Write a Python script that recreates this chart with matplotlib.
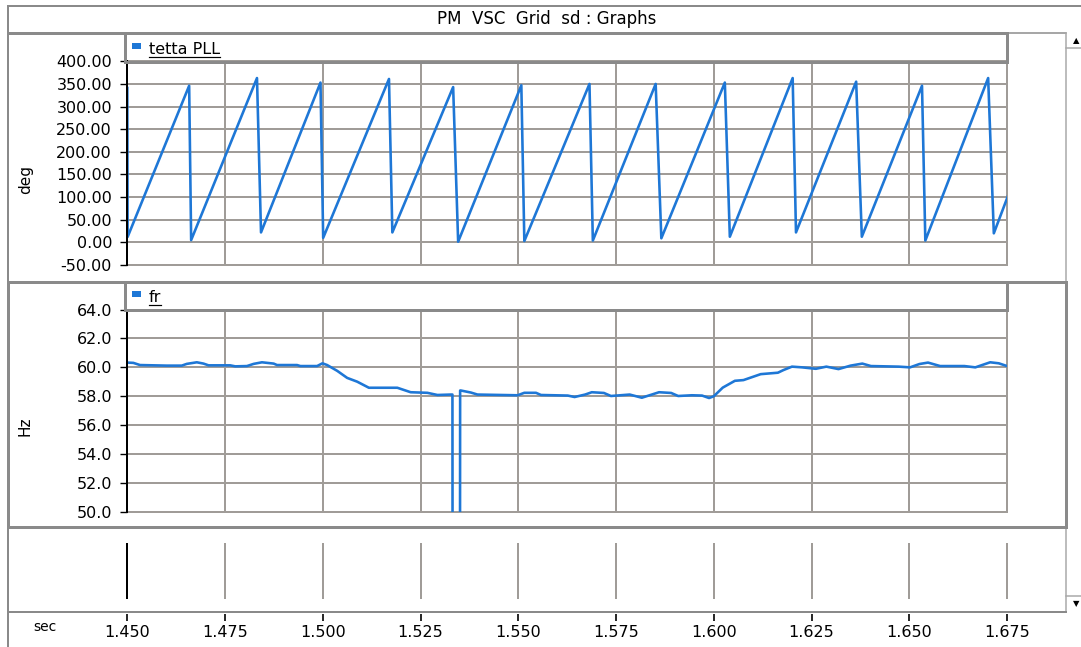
import matplotlib
matplotlib.use("Agg")
import matplotlib.pyplot as plt
from matplotlib.lines import Line2D
from matplotlib.patches import Rectangle

plt.rcParams['font.family'] = ['DejaVu Sans']

# ---------------- data ----------------
title = "PM  VSC  Grid  sd : Graphs"
x_ticks = [1.450, 1.475, 1.500, 1.525, 1.550, 1.575, 1.600, 1.625, 1.650, 1.675]
x_tick_labels = ["1.450", "1.475", "1.500", "1.525", "1.550", "1.575", "1.600", "1.625", "1.650", "1.675"]
theta_yticks = [-50, 0, 50, 100, 150, 200, 250, 300, 350, 400]
fr_yticks = [50, 52, 54, 56, 58, 60, 62, 64]

theta_time = [1.45000, 1.45008, 1.46582, 1.46633, 1.48317, 1.48420, 1.49941, 1.50010,
              1.51693, 1.51779, 1.53334, 1.53462, 1.55078, 1.55155, 1.56821, 1.56907,
              1.58514, 1.58659, 1.60283, 1.60411, 1.62018, 1.62103, 1.63642, 1.63787,
              1.65326, 1.65411, 1.67018, 1.67163, 1.67548]
theta_deg = [341, 12, 346, 5, 363, 22, 353, 10,
             361, 22, 343, 1.5, 347, 3, 350, 4,
             350, 9, 353, 12.5, 363, 22, 355, 12.5,
             346, 4, 363, 20, 108]

fr_time = [1.45000, 1.45154, 1.45325, 1.46009, 1.46393, 1.46521, 1.46778, 1.46949, 1.47077,
           1.47632, 1.47761, 1.48060, 1.48231, 1.48444, 1.48744, 1.48829, 1.49342, 1.49427,
           1.49855, 1.49991, 1.50111, 1.50368, 1.50624, 1.50880, 1.51179, 1.51906, 1.52248,
           1.52675, 1.52932, 1.53274, 1.53316, 1.53320, 1.53509, 1.53513, 1.53530, 1.53786,
           1.53957, 1.54983, 1.55154, 1.55453, 1.55581, 1.55923, 1.56265, 1.5644, 1.5671,
           1.5688, 1.5719, 1.5737, 1.5785, 1.5816, 1.5860, 1.5891, 1.5909, 1.5944, 1.5970,
           1.5988, 1.6000, 1.6023, 1.6054, 1.6076, 1.6120, 1.6164, 1.6178, 1.6200, 1.6226,
           1.6261, 1.6288, 1.6319, 1.6350, 1.6380, 1.6402, 1.6438, 1.6473, 1.6502, 1.6526,
           1.6548, 1.6579, 1.6641, 1.6669, 1.6707, 1.6729, 1.6750]
fr_hz = [60.33, 60.31, 60.16, 60.12, 60.12, 60.24, 60.35, 60.26, 60.14,
         60.14, 60.07, 60.09, 60.24, 60.35, 60.26, 60.16, 60.16, 60.09,
         60.09, 60.28, 60.16, 59.76, 59.27, 59.01, 58.59, 58.59, 58.28,
         58.24, 58.09, 58.12, 58.12, 45.0, 45.0, 58.40, 58.40, 58.26,
         58.12, 58.07, 58.24, 58.24, 58.09, 58.07, 58.05, 57.95, 58.12,
         58.28, 58.23, 58.02, 58.12, 57.90, 58.28, 58.23, 58.02, 58.07, 58.05,
         57.88, 58.00, 58.60, 59.07, 59.12, 59.53, 59.63, 59.81, 60.05, 60.00,
         59.90, 60.05, 59.88, 60.12, 60.26, 60.09, 60.07, 60.05, 60.00, 60.23,
         60.33, 60.09, 60.09, 60.00, 60.35, 60.28, 60.09]

# ---------------- style ----------------
W, H = 1081, 647
BLUE = '#1e77d6'
GRID = '#a09c98'
FRAME = '#8a8a8a'
LW_PX = 72.0 / 100.0  # points per pixel at dpi 100

fig = plt.figure(figsize=(W / 100, H / 100), dpi=100)
fig.patch.set_facecolor('white')


def rect(x0, y0, x1, y1):
    return [x0 / W, 1 - y1 / H, (x1 - x0) / W, (y1 - y0) / H]


def fline(x0, y0, x1, y1, color=FRAME, px=2.0, z=5):
    fig.add_artist(Line2D([x0 / W, x1 / W], [1 - y0 / H, 1 - y1 / H],
                          transform=fig.transFigure, color=color,
                          lw=px * LW_PX, solid_capstyle='projecting', zorder=z))


XL, XR = 127.3, 1007.0


def style_plot(ax, yticks, fmt):
    ax.set_xlim(x_ticks[0], x_ticks[-1])
    ax.set_xticks(x_ticks)
    ax.set_yticks(yticks)
    ax.set_ylim(yticks[0], yticks[-1])
    ax.set_yticklabels([fmt % v for v in yticks])
    ax.tick_params(axis='x', length=0, labelbottom=False)
    ax.tick_params(axis='y', direction='out', length=5, width=1.0, pad=6,
                   labelsize=11.5, colors='black')
    ax.grid(True, color=GRID, lw=2.0 * LW_PX)
    ax.set_axisbelow(True)
    for ln in ax.get_xgridlines() + ax.get_ygridlines():
        ln.set_clip_on(False)
    for s in ['top', 'right', 'bottom']:
        ax.spines[s].set_visible(False)
    ax.spines['left'].set_color('black')
    ax.spines['left'].set_linewidth(2.0 * LW_PX)
    ax.spines['left'].set_zorder(3)
    ax.set_facecolor('white')


# top plot
ax1 = fig.add_axes(rect(XL, 61.3, XR, 265.0))
style_plot(ax1, theta_yticks, '%.2f')
ax1.plot(theta_time, theta_deg, color=BLUE, lw=2.6 * LW_PX, zorder=2)

# bottom plot
ax2 = fig.add_axes(rect(XL, 309.5, XR, 512.0))
style_plot(ax2, fr_yticks, '%.1f')
ax2.plot(fr_time, fr_hz, color=BLUE, lw=2.6 * LW_PX, zorder=2)

# time marker strip
ax3 = fig.add_axes(rect(XL, 543, XR, 599))
ax3.set_xlim(x_ticks[0], x_ticks[-1])
ax3.set_ylim(0, 1)
ax3.axis('off')
ax3.vlines(x_ticks, 0, 1, colors=['black'] + [GRID] * (len(x_ticks) - 1),
           lw=2.0 * LW_PX, clip_on=False)

# x axis ticks
axx = fig.add_axes(rect(XL, 612.5, XR, 613.5))
axx.set_xlim(x_ticks[0], x_ticks[-1])
axx.set_xticks(x_ticks)
axx.set_xticklabels(x_tick_labels)
axx.set_yticks([])
for s in axx.spines.values():
    s.set_visible(False)
axx.patch.set_alpha(0)
axx.tick_params(axis='x', direction='out', length=5, width=1.2, pad=3,
                labelsize=11.5, colors='black')

# axis unit labels
fig.text(26 / W, 1 - 179 / H, 'deg', rotation=90, ha='center', va='center', fontsize=11)
fig.text(25 / W, 1 - 426 / H, 'Hz', rotation=90, ha='center', va='center', fontsize=11)
fig.text(45 / W, 1 - 627 / H, 'sec', ha='center', va='center', fontsize=10)

# title
fig.text(547 / W, 1 - 18.5 / H, title, ha='center', va='center', fontsize=12)

# ---------------- frames ----------------
fline(8, 6, 1081, 6, px=2)           # top outer line
fline(8, 6, 8, 647, px=2)            # left outer line
fline(8, 32.5, XR, 32.5, px=3)       # title bar bottom / legend top
fline(XR, 33, 1066, 33, px=1.5)
fline(1066, 33, 1066, 612, color='#a8a8a8', px=1.5)  # scrollbar edge
fline(1066, 48, 1081, 48, color='#a8a8a8', px=1.5)
fline(1066, 596, 1081, 596, color='#a8a8a8', px=1.5)

# top legend box
fline(124.5, 32.5, 124.5, 62, px=3)
fline(124.5, 62, XR, 62, px=3)
fline(XR, 32.5, XR, 62, px=3)

# fr panel frame (selected, thick)
fline(8, 281.5, 1066, 281.5, px=3)
fline(8, 281.5, 8, 527, px=3)
fline(1066, 281.5, 1066, 527, px=3)
fline(8, 527, 1066, 527, px=3)

# fr legend box
fline(124.5, 281.5, 124.5, 309.5, px=3)
fline(124.5, 309.5, XR, 309.5, px=3)
fline(XR, 281.5, XR, 309.5, px=3)

# time strip bottom
fline(8, 612, 1066, 612, px=2)

# scroll arrows
fig.text(1076 / W, 1 - 41 / H, '\u25b2', ha='center', va='center', fontsize=6, color='black')
fig.text(1076 / W, 1 - 604 / H, '\u25bc', ha='center', va='center', fontsize=6, color='black')

# legend entries
for (name, base_y, sq_y) in [('tetta PLL', 53.5, 43), ('fr', 301.5, 291)]:
    fig.add_artist(Rectangle((132 / W, 1 - (sq_y + 6) / H), 9 / W, 6 / H,
                             transform=fig.transFigure, facecolor=BLUE,
                             edgecolor='none', zorder=6))
    t = fig.text(149 / W, 1 - base_y / H, name, ha='left', va='baseline',
                 fontsize=11.5, zorder=6)
    fig.canvas.draw()
    bb = t.get_window_extent()
    fline(bb.x0, base_y + 3, bb.x1, base_y + 3, color='black', px=1.2, z=6)

fig.savefig('out.png', dpi=100, facecolor='white')
